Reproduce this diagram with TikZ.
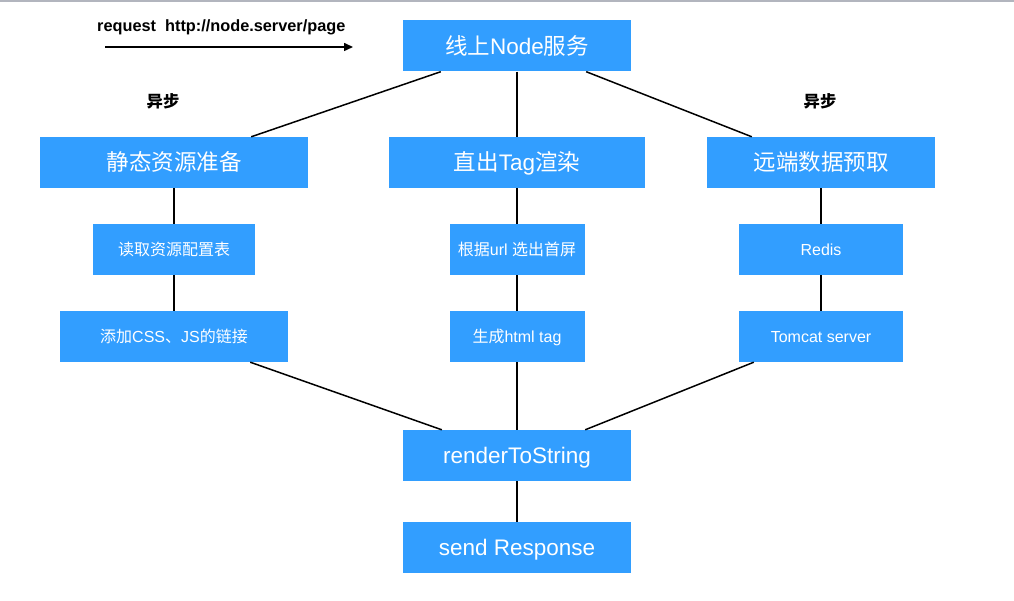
\documentclass[tikz,border=0pt]{standalone}
\usepackage{fontspec}
\setmainfont{Liberation Sans}
\newfontfamily\cjk{Noto Sans CJK SC}
\usetikzlibrary{arrows.meta}
\definecolor{boxblue}{RGB}{50,158,255}
\definecolor{topgrey}{RGB}{178,181,190}
\begin{document}
\begin{tikzpicture}[x=1pt,y=-1pt,
  bigbox/.style={fill=boxblue,text=white,inner sep=0pt,minimum height=51pt,text height=16.2pt,text depth=0pt,font=\fontsize{22.5}{26}\selectfont},
  smallbox/.style={fill=boxblue,text=white,inner sep=0pt,minimum height=51pt,text height=11.5pt,text depth=0pt,font=\fontsize{16}{19}\selectfont},
  conn/.style={line width=1.5pt,black},
  lbl/.style={font=\fontsize{16.3}{19}\selectfont\bfseries,text=black,inner sep=0pt}]
\useasboundingbox (0,0) rectangle (1014,601);
\fill[white] (0,0) rectangle (1014,601);
\fill[topgrey] (0,0) rectangle (1014,2.5);
% nodes
\node[bigbox,minimum width=228pt] (top) at (517,46) {{\cjk 线上}Node{\cjk 服务}};
\node[bigbox,minimum width=268pt] (b2) at (174,162.5) {\cjk 静态资源准备};
\node[bigbox,minimum width=256pt] (b3) at (517,162.5) {{\cjk 直出}Tag{\cjk 渲染}};
\node[bigbox,minimum width=228pt] (b4) at (821,162.5) {\cjk 远端数据预取};
\node[smallbox,minimum width=162pt] (b5) at (174,249.5) {\cjk 读取资源配置表};
\node[smallbox,minimum width=135pt] (b6) at (517,249.5) {{\cjk 根据}url {\cjk 选出首屏}};
\node[smallbox,minimum width=164pt] (b7) at (821,249.5) {Redis};
\node[smallbox,minimum width=228pt] (b8) at (174,336.5) {{\cjk 添加}CSS{\cjk 、}JS{\cjk 的链接}};
\node[smallbox,minimum width=135pt] (b9) at (517,336.5) {{\cjk 生成}html tag};
\node[smallbox,minimum width=164pt] (b10) at (821,336.5) {Tomcat server};
\node[bigbox,minimum width=228pt] (b11) at (517,455.5) {renderToString};
\node[bigbox,minimum width=228pt] (b12) at (517,547.5) {send Response};
% labels
\node[lbl,anchor=west] (req) at (97,27) {request\ \ http://node.server/page};
\node[lbl] (as1) at (163,101) {\cjk\bfseries 异步};
\node[lbl] (as2) at (820,101) {\cjk\bfseries 异步};
\coordinate (a1) at (105,47);
\coordinate (a2) at (353,47);
\draw[conn,-{Triangle[length=9pt,width=8pt]}] (a1) -- (a2);
% connectors
\draw[conn] ([xshift=38pt]top.south west) -- ([xshift=-57pt]b2.north east);
\draw[conn] (top.south) -- (b3.north);
\draw[conn] ([xshift=-45pt]top.south east) -- ([xshift=45pt]b4.north west);
\draw[conn] (b2.south) -- (b5.north);
\draw[conn] (b5.south) -- (b8.north);
\draw[conn] (b3.south) -- (b6.north);
\draw[conn] (b6.south) -- (b9.north);
\draw[conn] (b4.south) -- (b7.north);
\draw[conn] (b7.south) -- (b10.north);
\draw[conn] ([xshift=-38pt]b8.south east) -- ([xshift=39pt]b11.north west);
\draw[conn] (b9.south) -- (b11.north);
\draw[conn] ([xshift=15pt]b10.south west) -- ([xshift=-46pt]b11.north east);
\draw[conn] (b11.south) -- (b12.north);
\end{tikzpicture}
\end{document}
